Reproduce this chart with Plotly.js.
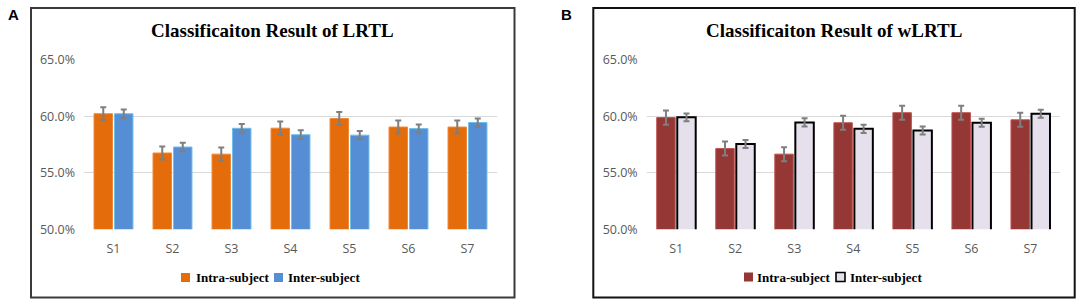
<!DOCTYPE html>
<html>
<head>
<meta charset="utf-8">
<script src="https://cdn.plot.ly/plotly-3.0.1.min.js"></script>
<style>
  html, body { margin: 0; padding: 0; background: #ffffff; }
  #chart { width: 1084px; height: 305px; }
</style>
</head>
<body>
<div id="chart"></div>
<script>
// ---- data ----
const subjects = ["S1", "S2", "S3", "S4", "S5", "S6", "S7"];

const lrtlIntra    = [60.24, 56.76, 56.66, 58.96, 59.82, 59.06, 59.06];
const lrtlIntraErr = [0.58, 0.57, 0.58, 0.59, 0.58, 0.58, 0.58];
const lrtlInter    = [60.24, 57.29, 58.95, 58.38, 58.34, 58.92, 59.46];
const lrtlInterErr = [0.37, 0.38, 0.39, 0.39, 0.37, 0.37, 0.36];

const wlrtlIntra    = [59.90, 57.15, 56.66, 59.44, 60.33, 60.33, 59.70];
const wlrtlIntraErr = [0.63, 0.62, 0.62, 0.62, 0.62, 0.62, 0.62];
const wlrtlInter    = [59.92, 57.56, 59.47, 58.90, 58.75, 59.44, 60.24];
const wlrtlInterErr = [0.35, 0.35, 0.36, 0.36, 0.35, 0.35, 0.35];

const seriesNames = ["Intra-subject", "Inter-subject"];
const titles = ["Classificaiton Result of LRTL", "Classificaiton Result of wLRTL"];
const yTickVals = [50, 55, 60, 65];
const yTickText = ["50.0%", "55.0%", "60.0%", "65.0%"];

// ---- styling ----
const W = 1084, H = 305;
const px = v => v / W;
const py = v => 1 - v / H;

const colors = {
  lrtl:  [{ fill: "#E46C0A", line: "#F0883A", lw: 1 }, { fill: "#558ED5", line: "#6FBFE6", lw: 1 }],
  wlrtl: [{ fill: "#953735", line: "#C0504D", lw: 1 }, { fill: "#E6E0EC", line: "#000000", lw: 2 }]
};

const errStyle = { color: "#7F7F7F", thickness: 2, width: 3 };

function bar(x, y, err, name, st, xa, ya) {
  return {
    type: "bar", x: x, y: y, name: name,
    xaxis: xa, yaxis: ya, showlegend: false,
    marker: { color: st.fill, line: { color: st.line, width: st.lw } },
    error_y: Object.assign({ type: "data", array: err, visible: true }, errStyle),
    hoverinfo: "skip"
  };
}

const traces = [
  bar(subjects, lrtlIntra, lrtlIntraErr, seriesNames[0], colors.lrtl[0], "x", "y"),
  bar(subjects, lrtlInter, lrtlInterErr, seriesNames[1], colors.lrtl[1], "x", "y"),
  bar(subjects, wlrtlIntra, wlrtlIntraErr, seriesNames[0], colors.wlrtl[0], "x2", "y2"),
  bar(subjects, wlrtlInter, wlrtlInterErr, seriesNames[1], colors.wlrtl[1], "x2", "y2")
];

const tickFont = { family: "Open Sans, Liberation Sans, sans-serif", size: 12.5, color: "#595959" };
const serifBold = "Liberation Serif, Times New Roman, serif";

const yDomain = [py(229.3), py(60)];

function xAxis(domain, anchor) {
  return {
    domain: domain, anchor: anchor, type: "category",
    showgrid: false, zeroline: false, showline: false,
    ticks: "", tickfont: tickFont, ticklabelstandoff: 10,
    fixedrange: true
  };
}
function yAxis(anchor) {
  return {
    domain: yDomain, anchor: anchor, range: [50, 65],
    tickvals: yTickVals, ticktext: yTickText,
    showgrid: true, gridcolor: "#D9D9D9", gridwidth: 1,
    zeroline: false, showline: false, ticks: "",
    tickfont: tickFont, ticklabelstandoff: 8, fixedrange: true
  };
}

// hand-placed legend (swatch + label) for each panel
const shapes = [
  { type: "rect", xref: "paper", yref: "paper", x0: px(31), x1: px(514.5), y0: py(8), y1: py(297.5),
    line: { color: "#3a3a3a", width: 2 } },
  { type: "rect", xref: "paper", yref: "paper", x0: px(593.3), x1: px(1074.7), y0: py(8), y1: py(297.5),
    line: { color: "#111111", width: 2 } }
];
const annotations = [
  { text: titles[0], xref: "paper", yref: "paper", x: px(272.5), y: py(30), xanchor: "center", yanchor: "middle",
    showarrow: false, font: { family: serifBold, size: 19, color: "#000", weight: "bold" } },
  { text: titles[1], xref: "paper", yref: "paper", x: px(834), y: py(30), xanchor: "center", yanchor: "middle",
    showarrow: false, font: { family: serifBold, size: 19, color: "#000", weight: "bold" } },
  { text: "A", xref: "paper", yref: "paper", x: px(13.5), y: py(14.5), xanchor: "center", yanchor: "middle",
    showarrow: false, font: { family: "Liberation Sans, Arial, sans-serif", size: 15, color: "#000", weight: "bold" } },
  { text: "B", xref: "paper", yref: "paper", x: px(566), y: py(14.5), xanchor: "center", yanchor: "middle",
    showarrow: false, font: { family: "Liberation Sans, Arial, sans-serif", size: 15, color: "#000", weight: "bold" } }
];

function addLegend(items, yc) {
  // items: [{sx, tx, st, name}]
  items.forEach(it => {
    shapes.push({
      type: "rect", xref: "paper", yref: "paper",
      x0: px(it.sx), x1: px(it.sx + 9), y0: py(yc + 4.5), y1: py(yc - 4.5),
      fillcolor: it.st.fill,
      line: { color: it.st.lw > 1 ? it.st.line : it.st.fill, width: it.st.lw > 1 ? 1.6 : 0 }
    });
    annotations.push({
      text: it.name, xref: "paper", yref: "paper", x: px(it.tx - 2), y: py(yc), xanchor: "left", yanchor: "middle",
      showarrow: false, font: { family: serifBold, size: 13, color: "#000", weight: "bold" }
    });
  });
}
addLegend([
  { sx: 181, tx: 196, st: colors.lrtl[0], name: seriesNames[0] },
  { sx: 274, tx: 288, st: colors.lrtl[1], name: seriesNames[1] }
], 277.5);
addLegend([
  { sx: 744, tx: 757, st: colors.wlrtl[0], name: seriesNames[0] },
  { sx: 836, tx: 850, st: colors.wlrtl[1], name: seriesNames[1] }
], 277);

const layout = {
  width: W, height: H,
  margin: { l: 0, r: 0, t: 0, b: 0 },
  paper_bgcolor: "#ffffff", plot_bgcolor: "#ffffff",
  barmode: "group", bargap: 0.305, bargroupgap: 0.1,
  xaxis: xAxis([px(84), px(497)], "y"),
  yaxis: yAxis("x"),
  xaxis2: xAxis([px(646.7), px(1060)], "y2"),
  yaxis2: yAxis("x2"),
  shapes: shapes,
  annotations: annotations,
  showlegend: false
};

Plotly.newPlot("chart", traces, layout, { displayModeBar: false, staticPlot: true });
</script>
</body>
</html>
